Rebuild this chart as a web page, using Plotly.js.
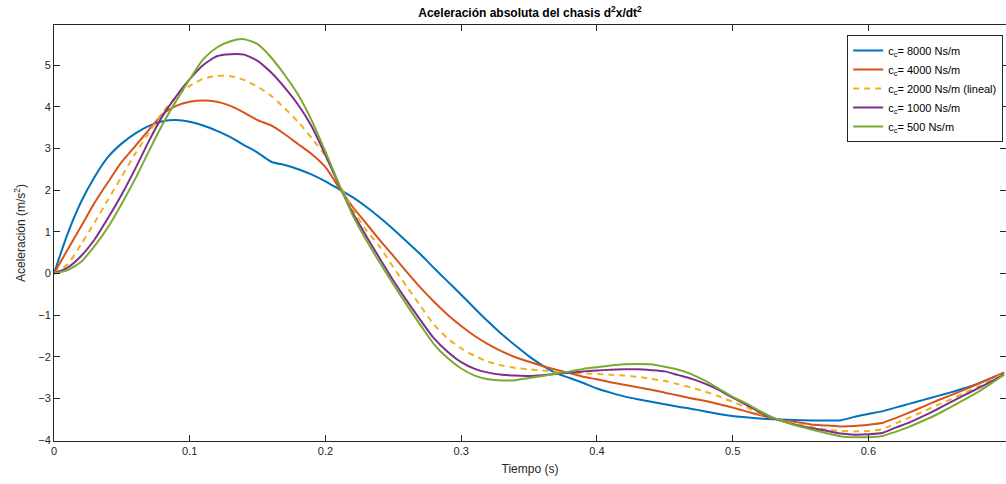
<!DOCTYPE html>
<html>
<head>
<meta charset="utf-8">
<script src="https://cdn.plot.ly/plotly-3.0.1.min.js"></script>
<style>html,body{margin:0;padding:0;background:#fff;}#chart{width:1006px;height:484px;}</style>
</head>
<body>
<div id="chart"></div>
<script>
const time = [0,0.01,0.02,0.03,0.04,0.05,0.06,0.07,0.08,0.09,0.10,0.11,0.12,0.13,0.14,0.15,0.16,0.17,0.18,0.19,0.20,0.21,0.22,0.23,0.24,0.25,0.26,0.27,0.28,0.29,0.30,0.31,0.32,0.33,0.34,0.35,0.36,0.37,0.38,0.39,0.40,0.41,0.42,0.43,0.44,0.45,0.46,0.47,0.48,0.49,0.50,0.51,0.52,0.53,0.54,0.55,0.56,0.57,0.58,0.59,0.60,0.61,0.62,0.63,0.64,0.65,0.66,0.67,0.68,0.69,0.70];

const cc8000 = [0,0.95,1.72,2.32,2.80,3.12,3.36,3.54,3.65,3.68,3.64,3.55,3.42,3.27,3.08,2.90,2.68,2.60,2.50,2.37,2.21,2.02,1.83,1.60,1.34,1.06,0.76,0.46,0.13,-0.19,-0.51,-0.84,-1.16,-1.46,-1.73,-1.99,-2.21,-2.39,-2.51,-2.63,-2.76,-2.86,-2.95,-3.02,-3.08,-3.14,-3.20,-3.25,-3.31,-3.37,-3.42,-3.45,-3.48,-3.50,-3.51,-3.52,-3.53,-3.53,-3.52,-3.44,-3.37,-3.31,-3.22,-3.13,-3.04,-2.95,-2.86,-2.76,-2.65,-2.52,-2.38];

const cc4000 = [0,0.57,1.13,1.70,2.20,2.68,3.06,3.45,3.82,4.02,4.12,4.15,4.12,4.02,3.86,3.68,3.55,3.34,3.10,2.86,2.55,2.06,1.60,1.20,0.80,0.42,0.03,-0.34,-0.68,-0.99,-1.26,-1.50,-1.70,-1.87,-2.01,-2.12,-2.22,-2.31,-2.39,-2.48,-2.54,-2.61,-2.67,-2.73,-2.79,-2.86,-2.93,-3.00,-3.06,-3.14,-3.22,-3.31,-3.40,-3.48,-3.54,-3.58,-3.63,-3.65,-3.67,-3.66,-3.63,-3.59,-3.47,-3.34,-3.20,-3.06,-2.93,-2.80,-2.66,-2.52,-2.38];

const cc2000 = [0,0.22,0.70,1.23,1.78,2.33,2.88,3.38,3.86,4.24,4.50,4.67,4.74,4.73,4.64,4.48,4.26,3.96,3.63,3.24,2.82,2.15,1.55,1.04,0.64,0.15,-0.32,-0.78,-1.23,-1.56,-1.80,-1.98,-2.12,-2.21,-2.27,-2.30,-2.33,-2.36,-2.38,-2.40,-2.41,-2.43,-2.45,-2.48,-2.53,-2.58,-2.66,-2.74,-2.84,-2.95,-3.08,-3.21,-3.36,-3.48,-3.56,-3.63,-3.70,-3.75,-3.78,-3.79,-3.78,-3.74,-3.60,-3.46,-3.32,-3.17,-3.03,-2.88,-2.73,-2.57,-2.40];

const cc1000 = [0,0.14,0.42,0.82,1.34,1.90,2.52,3.18,3.78,4.25,4.66,5.00,5.21,5.26,5.25,5.10,4.82,4.46,4.04,3.52,2.84,2.12,1.46,0.90,0.36,-0.17,-0.66,-1.12,-1.56,-1.88,-2.13,-2.29,-2.38,-2.43,-2.45,-2.46,-2.44,-2.41,-2.38,-2.35,-2.33,-2.31,-2.30,-2.30,-2.32,-2.35,-2.44,-2.53,-2.65,-2.80,-2.98,-3.15,-3.33,-3.47,-3.58,-3.66,-3.72,-3.78,-3.84,-3.87,-3.86,-3.83,-3.70,-3.58,-3.43,-3.27,-3.10,-2.93,-2.77,-2.60,-2.43];

const cc500 = [0,0.08,0.28,0.66,1.12,1.68,2.28,2.94,3.58,4.14,4.66,5.14,5.42,5.57,5.62,5.50,5.18,4.76,4.28,3.66,2.92,2.14,1.40,0.80,0.26,-0.26,-0.76,-1.24,-1.70,-2.03,-2.28,-2.45,-2.54,-2.57,-2.56,-2.51,-2.46,-2.40,-2.35,-2.29,-2.25,-2.21,-2.18,-2.17,-2.18,-2.24,-2.31,-2.42,-2.58,-2.77,-2.96,-3.12,-3.30,-3.46,-3.58,-3.68,-3.76,-3.84,-3.91,-3.93,-3.93,-3.90,-3.80,-3.68,-3.54,-3.39,-3.22,-3.04,-2.86,-2.65,-2.43];

const seriesNames = ['c<sub>c</sub>= 8000 Ns/m','c<sub>c</sub>= 4000 Ns/m','c<sub>c</sub>= 2000 Ns/m (lineal)','c<sub>c</sub>= 1000 Ns/m','c<sub>c</sub>= 500 Ns/m'];
const seriesData = [cc8000, cc4000, cc2000, cc1000, cc500];
const colors = ['#0072BD','#D95319','#EDB120','#7E2F8E','#77AC30'];
const dashes = ['solid','solid','6px,5px','solid','solid'];

const traces = seriesData.map((ys, i) => ({
  x: time, y: ys, type: 'scatter', mode: 'lines', name: seriesNames[i],
  line: {color: colors[i], width: 2, dash: dashes[i], shape: 'spline', smoothing: 0.6}
}));

const axisCommon = {
  showline: true, linecolor: '#262626', linewidth: 1, mirror: 'ticks',
  ticks: 'inside', ticklen: 6, tickcolor: '#262626', tickwidth: 1,
  showgrid: false, zeroline: false,
  tickfont: {family: 'Liberation Sans, Arial, sans-serif', size: 11, color: '#262626'}
};

const layout = {
  width: 1006, height: 484,
  margin: {l: 54, r: 0, t: 25, b: 43},
  paper_bgcolor: '#fff', plot_bgcolor: '#fff',
  font: {family: 'Liberation Sans, Arial, sans-serif', color: '#262626'},
  title: {text: '<b>Aceleración absoluta del chasis d<sup>2</sup>x/dt<sup>2</sup></b>',
    font: {size: 12, color: '#000'}, x: 0.5, xref: 'paper', y: 0.974, yref: 'container', yanchor: 'middle'},
  xaxis: Object.assign({}, axisCommon, {
    range: [0, 0.7014], tickvals: [0,0.1,0.2,0.3,0.4,0.5,0.6], ticktext: ['0','0.1','0.2','0.3','0.4','0.5','0.6'],
    title: {text: 'Tiempo (s)', font: {size: 12, color: '#262626'}, standoff: 8}
  }),
  yaxis: Object.assign({}, axisCommon, {
    range: [-4.02, 5.96], tickvals: [-4,-3,-2,-1,0,1,2,3,4,5],
    title: {text: 'Aceleración (m/s<sup>2</sup>)', font: {size: 12, color: '#262626'}, standoff: 10}
  }),
  showlegend: true,
  legend: {
    x: 0.997, xanchor: 'right', y: 0.976, yanchor: 'top',
    bgcolor: '#fff', bordercolor: '#262626', borderwidth: 1,
    font: {size: 11, color: '#000'}, tracegroupgap: 0, itemwidth: 30
  }
};

Plotly.newPlot('chart', traces, layout, {displayModeBar: false, staticPlot: true});
</script>
</body>
</html>
